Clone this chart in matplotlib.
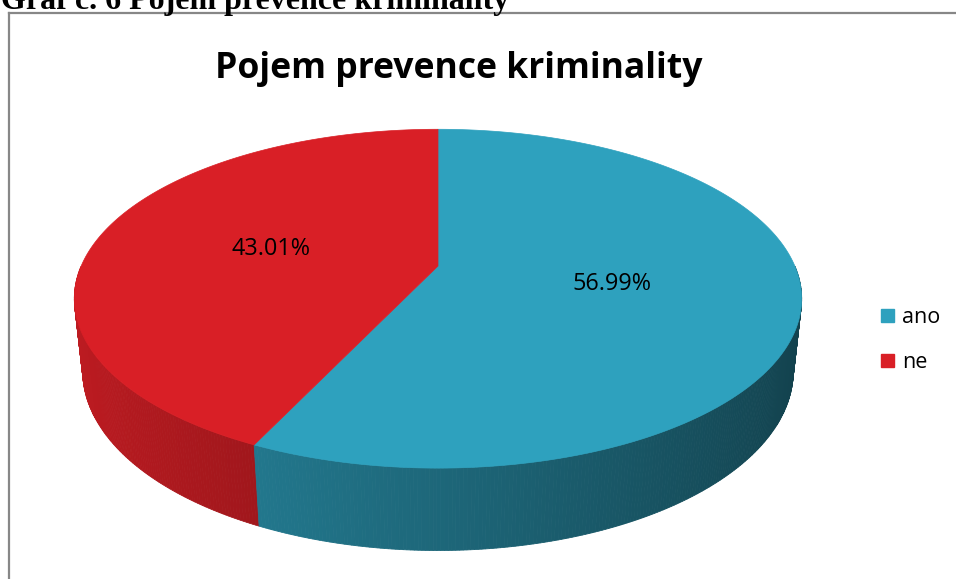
import numpy as np
import matplotlib
matplotlib.use("Agg")
import matplotlib.pyplot as plt
from matplotlib.patches import Polygon, Patch
from matplotlib.lines import Line2D

# ---- data ----
categories = ["ano", "ne"]
values = [56.99, 43.01]
colors = ["#2EA1BE", "#D91F26"]
title = "Pojem prevence kriminality"
caption = "Graf č. 6 Pojem prevence kriminality"

W, H = 956, 579
fig = plt.figure(figsize=(W / 100, H / 100), dpi=100)
ax = fig.add_axes([0, 0, 1, 1])
ax.set_xlim(0, W)
ax.set_ylim(H, 0)
ax.axis("off")

# ---- 3D perspective projection of a cylinder (pie) ----
phi = np.deg2rad(27.2)
cphi, sphi = np.cos(phi), np.sin(phi)
Dcam, Fcam = 4.61, 1645.0
cx, cy = 438.0, 266.0
hgt = 0.23


def proj(X, Y, Z):
    yc = Y * cphi - Z * sphi
    depth = Dcam - Y * sphi - Z * cphi
    return cx + Fcam * X / depth, cy - Fcam * yc / depth, depth


def shade(col, f):
    rgb = np.array(matplotlib.colors.to_rgb(col))
    return tuple(np.clip(rgb * f, 0, 1))


total = sum(values)
start = 90.0
slices = []
for v, col in zip(values, colors):
    span = v / total * 360.0
    a1, a2 = start - span, start
    slices.append((a1, a2, col, v))
    start = a1

# side faces (front half), painter's order by depth
quads = []
for a1, a2, col, v in slices:
    n = max(int(abs(a2 - a1) * 2), 2)
    ang = np.linspace(a1, a2, n + 1)
    for i in range(n):
        b1, b2 = np.deg2rad(ang[i]), np.deg2rad(ang[i + 1])
        bm = 0.5 * (b1 + b2)
        if np.sin(bm) > 0:
            continue
        pts = []
        for (b, Y) in [(b1, 0), (b2, 0), (b2, -hgt), (b1, -hgt)]:
            x, y, _ = proj(np.cos(b), Y, -np.sin(b))
            pts.append((x, y))
        _, _, dep = proj(np.cos(bm), -hgt / 2, -np.sin(bm))
        f = 0.64 - 0.24 * np.cos(bm)
        quads.append((dep, pts, shade(col, f)))
quads.sort(key=lambda q: -q[0])
for dep, pts, fc in quads:
    ax.add_patch(Polygon(pts, closed=True, facecolor=fc, edgecolor=fc,
                         linewidth=0.6, zorder=2))

# top faces
for a1, a2, col, v in slices:
    ang = np.deg2rad(np.linspace(a1, a2, 400))
    xs, ys, _ = proj(np.cos(ang), 0 * ang, -np.sin(ang))
    c0 = proj(0.0, 0.0, 0.0)
    pts = [(c0[0], c0[1])] + list(zip(xs, ys))
    ax.add_patch(Polygon(pts, closed=True, facecolor=col, edgecolor=col,
                         linewidth=0.5, zorder=3))
    am = np.deg2rad(0.5 * (a1 + a2))
    r = 0.49
    lx, ly, _ = proj(r * np.cos(am), 0.0, -r * np.sin(am))
    ax.text(lx, ly, f"{v:.2f}%", ha="center", va="center", fontsize=16.8,
            family="Open Sans", color="black", zorder=5)

# title
ax.text(459, 69, title, ha="center", va="center", fontsize=25.6,
        fontweight="bold", family="Open Sans", color="black", zorder=5)

# caption cut off at top (as in the reference)
ax.text(1, 9, caption, ha="left", va="baseline", fontsize=23,
        fontweight="bold", family="Liberation Serif", color="black", zorder=5)

# border of the chart area
ax.add_line(Line2D([9, 9], [13, H + 5], color="#878787", lw=1.6, zorder=4))
ax.add_line(Line2D([9, W + 5], [13, 13], color="#878787", lw=1.6, zorder=4))

# legend
handles = [Patch(facecolor=c, edgecolor=c) for c in colors]
leg = ax.legend(handles, categories, loc="center left",
                bbox_to_anchor=(872 / W, 1 - 340 / H), frameon=False,
                prop={"family": "Open Sans", "size": 15.5},
                handlelength=0.6, handleheight=0.6, handletextpad=0.4,
                labelspacing=1.12, borderaxespad=0)

fig.savefig("out.png", dpi=100)
